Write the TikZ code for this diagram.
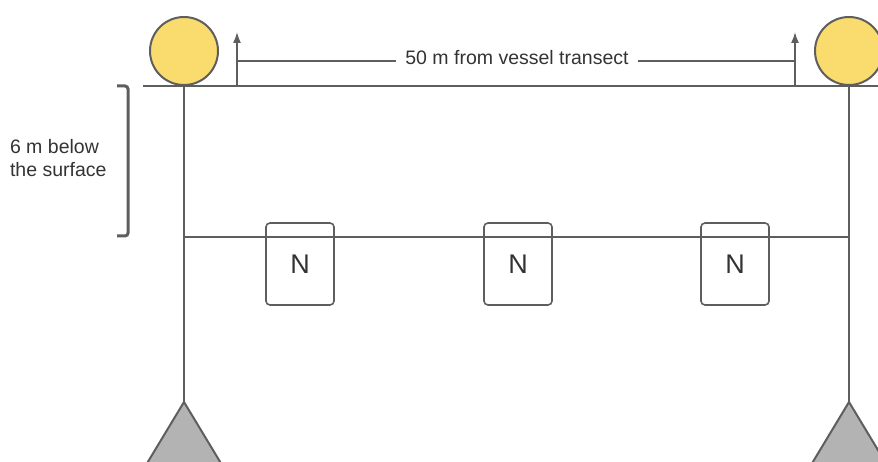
\documentclass[tikz,border=0pt]{standalone}
\usepackage{fontspec}
\setmainfont{Liberation Sans}
\usetikzlibrary{arrows.meta}
\definecolor{ln}{HTML}{5E5E5E}
\definecolor{buoy}{HTML}{FADB6E}
\definecolor{anch}{HTML}{B3B3B3}
\definecolor{txt}{HTML}{333333}
\begin{document}
\begin{tikzpicture}[x=1pt,y=-1pt,line width=2pt,
  rope/.style={draw=ln,line width=2pt},
  buoynode/.style={circle,draw=ln,fill=buoy,line width=2pt,minimum size=68pt,inner sep=0pt},
  netbox/.style={draw=ln,rounded corners=4pt,line width=1.6pt,minimum width=68pt,minimum height=82pt,font=\fontsize{27}{30}\selectfont,text=txt},
  lbl/.style={font=\fontsize{19.5}{23}\selectfont,text=txt},
  marker/.style={draw=ln,line width=1.6pt,-{Latex[length=11pt,width=8pt]}}]
\useasboundingbox (0,0) rectangle (878,462);
\clip (0,0) rectangle (878,462);
% surface
\coordinate (sL) at (143,86);
\coordinate (sR) at (880,86);
\draw[rope] (sL) -- (sR);
% anchors
\coordinate (aL) at (184,402);
\coordinate (aR) at (849,402);
\fill[anch,draw=ln,line width=2pt,line join=round] (aL) -- (146,465) -- (222,465) -- cycle;
\fill[anch,draw=ln,line width=2pt,line join=round] (aR) -- (811,465) -- (887,465) -- cycle;
% verticals
\coordinate (tL) at (184,86);
\coordinate (tR) at (849,86);
\draw[rope] (tL) -- (aL);
\draw[rope] (tR) -- (aR);
% buoys
\node[buoynode] (bL) at (184,51) {};
\node[buoynode] (bR) at (849,51) {};
% net line
\coordinate (nL) at (184,237);
\coordinate (nR) at (849,237);
\draw[rope] (nL) -- (nR);
\node[netbox] (n1) at (300,264) {N};
\node[netbox] (n2) at (518,264) {N};
\node[netbox] (n3) at (735,264) {N};
% distance marker
\coordinate (a1b) at (237,86);
\coordinate (a1t) at (237,32);
\coordinate (a2b) at (795,86);
\coordinate (a2t) at (795,32);
\draw[marker] (a1b) -- (a1t);
\draw[marker] (a2b) -- (a2t);
\node[lbl,inner sep=8pt] (dist) at (517,58) {50 m from vessel transect};
\coordinate (h1) at (237,61);
\coordinate (h2) at (795,61);
\draw[ln,line width=1.6pt] (h1) -- (dist.west |- h1);
\draw[ln,line width=1.6pt] (dist.east |- h2) -- (h2);
% bracket
\coordinate (k1) at (117,86);
\coordinate (k2) at (128,86);
\coordinate (k3) at (128,236);
\coordinate (k4) at (117,236);
\draw[ln,line width=3pt,rounded corners=3pt] (k1) -- (k2) -- (k3) -- (k4);
\node[lbl,align=left,anchor=west,inner sep=0pt] (depth) at (9,158) {6 m below\\the surface};
\end{tikzpicture}
\end{document}
